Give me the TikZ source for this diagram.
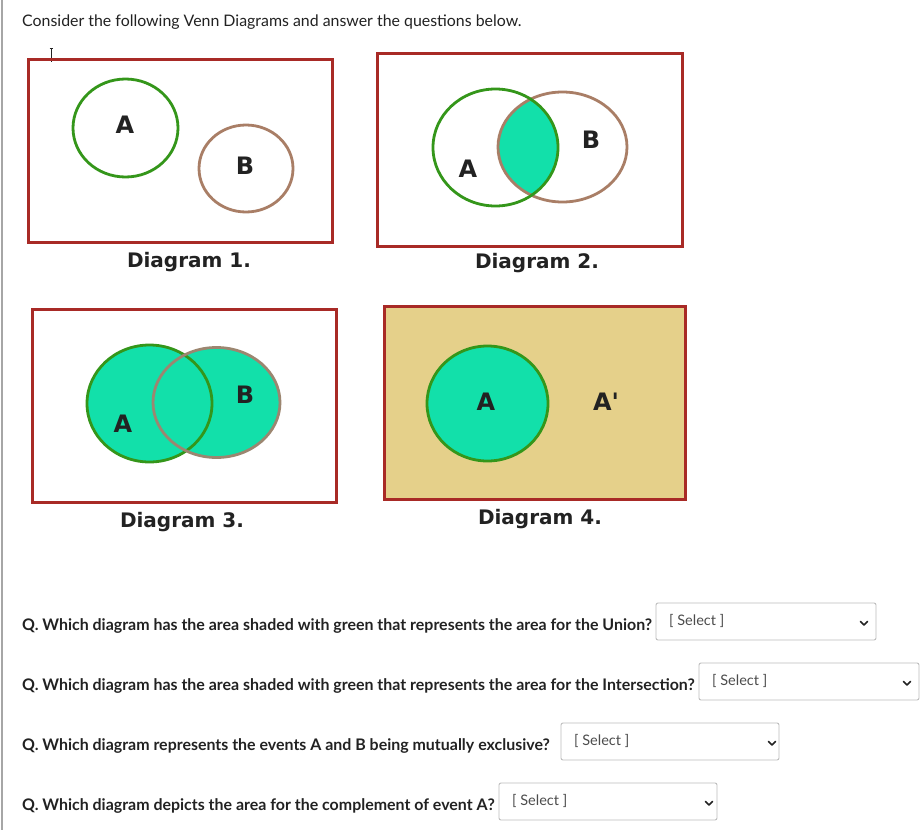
\documentclass[tikz,border=0pt]{standalone}
\usepackage{fontspec}
\newfontfamily\lato{Lato}
\newfontfamily\dejab{DejaVu Sans}[BoldFont={DejaVu Sans Bold}]
\definecolor{boxred}{HTML}{A82A26}
\definecolor{cgreen}{HTML}{34961A}
\definecolor{cbrown}{HTML}{A97E66}
\definecolor{cbrowngray}{HTML}{9C8670}
\definecolor{teal}{HTML}{12E0AA}
\definecolor{tan}{HTML}{E5D08A}
\definecolor{ink}{HTML}{222222}
\definecolor{selgray}{HTML}{BDBDBD}
\begin{document}
\begin{tikzpicture}[x=1pt,y=-1pt,
  frame/.style={draw=boxred,line width=3pt},
  ringA/.style={draw=cgreen,line width=2.8pt},
  ringB/.style={draw=cbrown,line width=2.8pt},
  setlabel/.style={font=\dejab\bfseries\fontsize{24}{24}\selectfont,text=ink,inner sep=0pt},
  caption/.style={font=\dejab\bfseries\fontsize{20}{20}\selectfont,text=ink,inner sep=0pt},
  question/.style={font=\lato\bfseries\fontsize{15.95}{16}\selectfont,text=ink,anchor=west,inner sep=0pt},
  selbox/.style={draw=selgray,line width=0.9pt,rounded corners=2pt},
  seltext/.style={font=\lato\fontsize{14.5}{14.5}\selectfont,text=black!70,anchor=west,inner sep=0pt},
  chev/.style={draw=ink,line width=1.6pt,line cap=round,line join=round}
]
\useasboundingbox (0,0) rectangle (923,830);
\fill[white] (0,0) rectangle (923,830);
% left border
\draw[gray!70,line width=2pt] (2,0) -- (2,830);
% title
\node[font=\lato\fontsize{15.9}{16}\selectfont,text=ink,anchor=west,inner sep=0pt] (title) at (22,22) {Consider the following Venn Diagrams and answer the questions below.};
% cursor
\draw[ink,line width=0.8pt] (51,48) -- (51,62);
\draw[ink,line width=0.6pt] (49.5,48) -- (52.5,48);

% Diagram 1
\draw[frame] (28,59) rectangle (332,242);
\draw[ringA] (125.5,128) ellipse [x radius=52.5,y radius=49];
\draw[ringB] (246,168.5) ellipse [x radius=47,y radius=43.5];
\node[setlabel] (d1A) at (125,125) {A};
\node[setlabel] (d1B) at (245,166) {B};
\node[caption] (cap1) at (189,262) {Diagram 1.};

% Diagram 2
\draw[frame] (377,53) rectangle (682,246);
\begin{scope}
\clip (495.5,147.5) ellipse [x radius=62.5,y radius=58.5];
\fill[teal] (562.5,147) ellipse [x radius=64.5,y radius=55];
\end{scope}
\draw[ringB] (562.5,147) ellipse [x radius=64.5,y radius=55];
\draw[ringA] (495.5,147.5) ellipse [x radius=62.5,y radius=58.5];
\node[setlabel] (d2A) at (468,169) {A};
\node[setlabel] (d2B) at (591,140) {B};
\node[caption] (cap2) at (537,263) {Diagram 2.};

% Diagram 3
\draw[frame] (32,309) rectangle (336,502);
\fill[teal] (149.5,403.5) ellipse [x radius=62.5,y radius=58.5];
\fill[teal] (216.5,402.5) ellipse [x radius=63.5,y radius=55];
\draw[ringA] (149.5,403.5) ellipse [x radius=62.5,y radius=58.5];
\draw[draw=cbrowngray,line width=2.8pt] (216.5,402.5) ellipse [x radius=63.5,y radius=55];
\node[setlabel] (d3A) at (123,424) {A};
\node[setlabel] (d3B) at (245,395) {B};
\node[caption] (cap3) at (182,522) {Diagram 3.};

% Diagram 4
\draw[frame,fill=tan] (384,306) rectangle (685,499);
\draw[ringA,fill=teal] (487.5,403.5) ellipse [x radius=60.5,y radius=57.5];
\node[setlabel] (d4A) at (486,402) {A};
\node[setlabel] (d4Ac) at (606,402) {A'};
\node[caption] (cap4) at (540,519) {Diagram 4.};

% Questions
\node[question] (q1) at (22,626) {Q. Which diagram has the area shaded with green that represents the area for the Union?};
\node[question] (q2) at (22,686) {Q. Which diagram has the area shaded with green that represents the area for the Intersection?};
\node[question] (q3) at (22,746) {Q. Which diagram represents the events A and B being mutually exclusive?};
\node[question] (q4) at (22,806) {Q. Which diagram depicts the area for the complement of event A?};

% Select boxes
\draw[selbox] (656,603) rectangle (876,640);
\node[seltext] (s1) at (669,621) {[ Select ]};
\draw[chev] (860.5,621.5) -- (864,625) -- (867.5,621.5);

\draw[selbox] (699,663) rectangle (919,700);
\node[seltext] (s2) at (712,681) {[ Select ]};
\draw[chev] (903.5,681.5) -- (907,685) -- (910.5,681.5);

\draw[selbox] (561,723) rectangle (779,760);
\node[seltext] (s3) at (574,741) {[ Select ]};
\draw[chev] (768.5,741.5) -- (772,745) -- (775.5,741.5);

\draw[selbox] (499,783) rectangle (717,820);
\node[seltext] (s4) at (512,801) {[ Select ]};
\draw[chev] (705.5,801.5) -- (709,805) -- (712.5,801.5);
\end{tikzpicture}
\end{document}
